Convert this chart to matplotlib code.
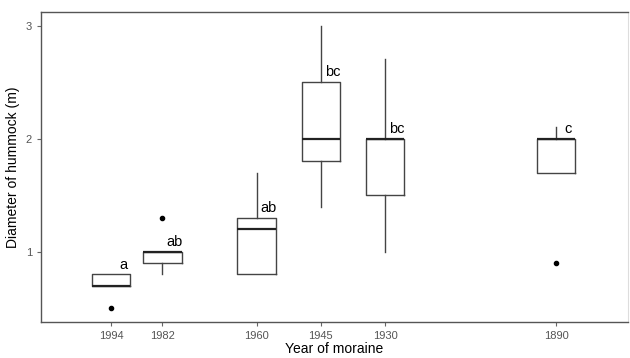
import matplotlib
matplotlib.use("Agg")
import matplotlib.pyplot as plt

plt.rcParams['font.family'] = ['Liberation Sans', 'DejaVu Sans']

# Moraine years and box statistics of hummock diameter (m)
years = [1994, 1982, 1960, 1945, 1930, 1890]
whislo = [0.7, 0.8, 0.8, 1.4, 1.0, 1.7]
q1 = [0.7, 0.9, 0.8, 1.8, 1.5, 1.7]
med = [0.7, 1.0, 1.2, 2.0, 2.0, 2.0]
q3 = [0.8, 1.0, 1.3, 2.5, 2.0, 2.0]
whishi = [0.8, 1.0, 1.7, 3.0, 2.7, 2.1]
outliers = [[0.5], [1.3], [], [], [], [0.9]]
letters = ["a", "ab", "ab", "bc", "bc", "c"]

stats = []
for i in range(len(years)):
    stats.append(dict(whislo=whislo[i], q1=q1[i], med=med[i], q3=q3[i],
                      whishi=whishi[i], fliers=outliers[i]))

fig = plt.figure(figsize=(6.3, 3.58), dpi=100)
ax = fig.add_axes([0.065, 0.1006, 0.932, 0.866])

grey = "#444444"
ax.bxp(stats, positions=years, widths=9, showcaps=False, manage_ticks=False,
       boxprops=dict(color=grey, linewidth=1.0),
       whiskerprops=dict(color=grey, linewidth=1.0),
       medianprops=dict(color="#222222", linewidth=1.6),
       flierprops=dict(marker="o", markerfacecolor="black", markeredgecolor="black",
                       markersize=3))

# significance letters
for x, top, lab in zip(years, q3, letters):
    ax.text(x - 2.8, top + 0.05, lab, fontsize=10.5, ha="center", va="baseline")

ax.set_xlim(2010.4, 1873.2)
ax.set_ylim(0.38, 3.12)
ax.set_xticks(years)
ax.set_yticks([1, 2, 3])
ax.tick_params(colors="#666666", labelsize=8, length=3, width=0.8)
ax.tick_params(labelcolor="#555555")
for s in ["left", "bottom", "top"]:
    ax.spines[s].set_color("#555555")
    ax.spines[s].set_linewidth(1.0)
ax.spines["right"].set_color("#dddddd")

ax.set_xlabel("Year of moraine", fontsize=10, labelpad=1)
ax.set_ylabel("Diameter of hummock (m)", fontsize=10, labelpad=4)

fig.savefig("out.png", dpi=100)
